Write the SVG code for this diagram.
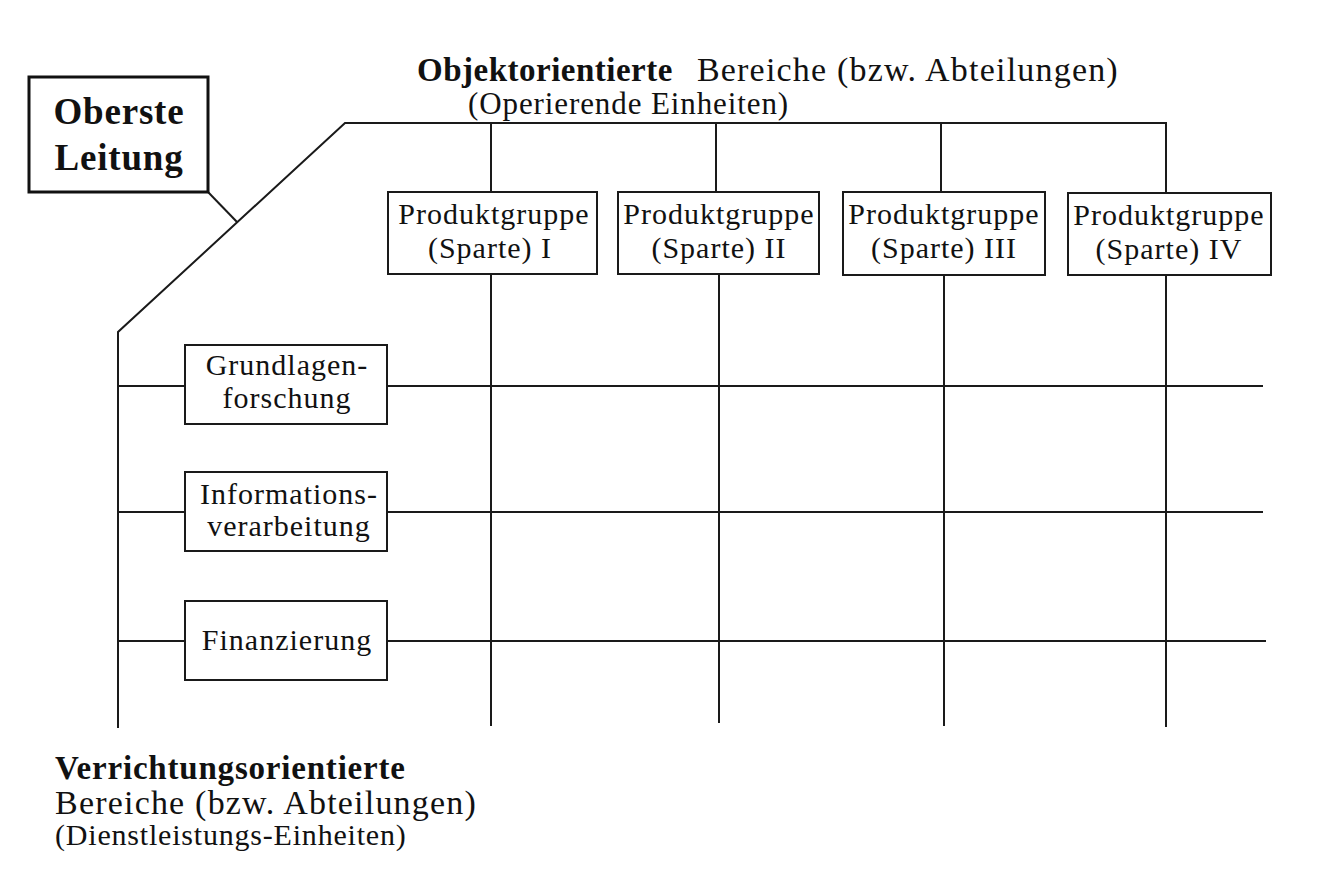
<svg xmlns="http://www.w3.org/2000/svg" width="1327" height="880" viewBox="0 0 1327 880">
<style>
  .ln { stroke: #1a1a1a; stroke-width: 2; fill: none; }
  .box { fill: #fff; stroke: #1a1a1a; stroke-width: 2; }
  .top { fill: #fff; stroke: #111; stroke-width: 3; }
  .t { font-family: "Liberation Serif", "Times New Roman", serif; fill: #111; }
  .bt { font-size: 30px; letter-spacing: 1px; text-anchor: middle; }
  .hb { font-family: "Liberation Serif", "Times New Roman", serif; font-weight: bold; fill: #111; }
</style>
<rect width="1327" height="880" fill="#fff"/>

<g id="connectors">
  <path class="ln" d="M208,192 L237,222"/>
  <path class="ln" d="M118,728 L118,332 L345,123 L1166,123 L1166,193"/>
  <path class="ln" d="M491,123 L491,192"/>
  <path class="ln" d="M716,123 L716,192"/>
  <path class="ln" d="M941,123 L941,192"/>
  <path class="ln" d="M491,274 L491,726"/>
  <path class="ln" d="M719,274 L719,723"/>
  <path class="ln" d="M944,275 L944,726"/>
  <path class="ln" d="M1166,275 L1166,727"/>
  <path class="ln" d="M118,386 L185,386 M387,386 L1263,386"/>
  <path class="ln" d="M118,512 L185,512 M387,512 L1263,512"/>
  <path class="ln" d="M118,641 L185,641 M387,641 L1266,641"/>
</g>

<g id="oberste-leitung">
  <rect class="top" x="29" y="77" width="179" height="115"/>
  <text class="hb" x="119" y="124" font-size="37" letter-spacing="0.8" text-anchor="middle">Oberste</text>
  <text class="hb" x="119" y="170" font-size="37" letter-spacing="0.8" text-anchor="middle">Leitung</text>
</g>

<g id="titel-objekt">
  <text x="417" y="81" font-size="33"><tspan class="hb" letter-spacing="0.5">Objektorientierte</tspan><tspan class="t" dx="24" font-size="34" letter-spacing="1.2">Bereiche (bzw. Abteilungen)</tspan></text>
  <text class="t" x="468" y="114" font-size="31" letter-spacing="0.9">(Operierende Einheiten)</text>
</g>

<g id="sparte-1">
  <rect class="box" x="388" y="192" width="209" height="82"/>
  <text class="t bt" x="494" y="224">Produktgruppe</text>
  <text class="t bt" x="490" y="258">(Sparte) I</text>
</g>
<g id="sparte-2">
  <rect class="box" x="618" y="192" width="201" height="82"/>
  <text class="t bt" x="719" y="224">Produktgruppe</text>
  <text class="t bt" x="719" y="258">(Sparte) II</text>
</g>
<g id="sparte-3">
  <rect class="box" x="843" y="192" width="202" height="83"/>
  <text class="t bt" x="944" y="224">Produktgruppe</text>
  <text class="t bt" x="944" y="258">(Sparte) III</text>
</g>
<g id="sparte-4">
  <rect class="box" x="1068" y="193" width="203" height="82"/>
  <text class="t bt" x="1169" y="225">Produktgruppe</text>
  <text class="t bt" x="1169" y="259">(Sparte) IV</text>
</g>

<g id="grundlagenforschung">
  <rect class="box" x="185" y="345" width="202" height="79"/>
  <text class="t bt" x="287" y="375">Grundlagen-</text>
  <text class="t bt" x="287" y="408">forschung</text>
</g>
<g id="informationsverarbeitung">
  <rect class="box" x="185" y="472" width="202" height="79"/>
  <text class="t bt" x="289" y="504">Informations-</text>
  <text class="t bt" x="289" y="536">verarbeitung</text>
</g>
<g id="finanzierung">
  <rect class="box" x="185" y="601" width="202" height="79"/>
  <text class="t bt" x="287" y="650">Finanzierung</text>
</g>

<g id="titel-verrichtung">
  <text class="hb" x="55" y="779" font-size="33" letter-spacing="0.8">Verrichtungsorientierte</text>
  <text class="t" x="55" y="814" font-size="34" letter-spacing="1.2">Bereiche (bzw. Abteilungen)</text>
  <text class="t" x="55" y="845" font-size="30" letter-spacing="0.8">(Dienstleistungs-Einheiten)</text>
</g>
</svg>
